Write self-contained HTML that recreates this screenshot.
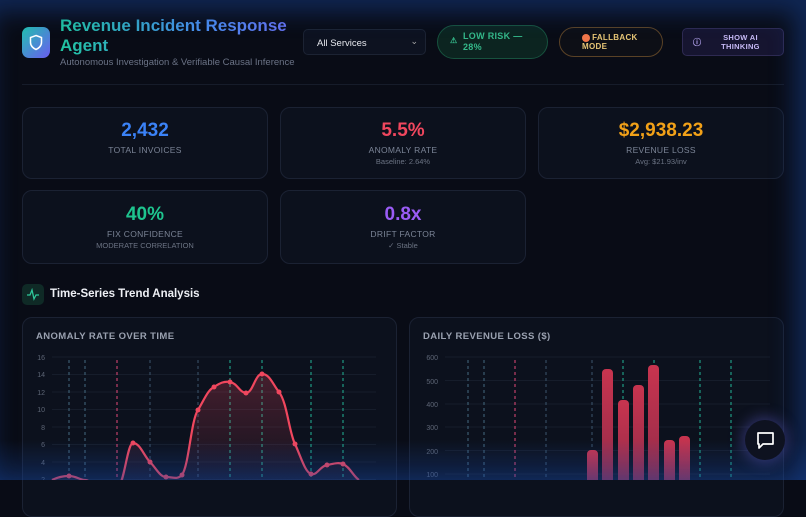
<!DOCTYPE html>
<html><head><meta charset="utf-8"><style>
*{box-sizing:border-box;margin:0;padding:0}
body{width:806px;height:480px;overflow:hidden;background:#090c16;font-family:"Liberation Sans",sans-serif;position:relative}
.abs{position:absolute}
.card{position:absolute;border:1px solid #1b2233;border-radius:10px;background:#0c111d}
.val{position:absolute;left:0;right:0;text-align:center;font-weight:bold;font-size:19px}
.lab{position:absolute;left:0;right:0;text-align:center;font-size:8.5px;color:#7b8496;letter-spacing:.3px}
.sub{position:absolute;left:0;right:0;text-align:center;font-size:7.5px;color:#6b7383}
.pill{position:absolute;font-weight:bold;font-size:8.5px;letter-spacing:.3px}
.glow{position:absolute;inset:0;pointer-events:none;box-shadow:inset -10px 10px 24px 2px rgba(25,70,160,.45)}
</style></head><body>
<!-- header -->
<div class="abs" style="left:22px;top:27px;width:28px;height:31px;border-radius:7px;background:linear-gradient(135deg,#22c3b0,#6a5cf0)"></div>
<svg class="abs" style="left:28px;top:34px" width="16" height="17" viewBox="0 0 16 17"><path d="M8 1.5 L13.5 3.5 V8.5 C13.5 12 10.5 14.5 8 15.5 C5.5 14.5 2.5 12 2.5 8.5 V3.5 Z" fill="none" stroke="#fff" stroke-width="1.5"/></svg>
<div class="abs" style="left:60px;top:16px;font-size:17px;font-weight:bold;line-height:20px;background:linear-gradient(90deg,#20c4a0,#4a8ef0 60%,#6a6ef2);-webkit-background-clip:text;color:transparent;width:240px">Revenue Incident Response Agent</div>
<div class="abs" style="left:60px;top:57px;font-size:9.5px;color:#6b7386">Autonomous Investigation &amp; Verifiable Causal Inference</div>
<div class="abs" style="left:303px;top:29px;width:123px;height:26px;border:1px solid #1c2333;border-radius:5px;background:#0d1220;color:#e6e8ee;font-size:9.5px;padding:8px 0 0 13px">All Services<span style="position:absolute;right:7px;top:6px;font-size:9px;color:#aaa">⌄</span></div>
<div class="abs" style="left:437px;top:25px;width:111px;height:34px;border:1px solid #17523e;border-radius:17px;background:#0c2420"></div>
<div class="pill" style="left:450px;top:36px;color:#34b98a;font-size:8px">⚠</div>
<div class="pill" style="left:463px;top:31px;color:#34b98a;font-size:9px;line-height:11px">LOW RISK —<br>28%</div>
<div class="abs" style="left:559px;top:27px;width:104px;height:30px;border:1px solid #5a4226;border-radius:15px;background:#0d0f16"></div>
<div class="abs" style="left:582px;top:34px;width:8px;height:8px;border-radius:50%;background:#f0764a"></div>
<div class="pill" style="left:582px;top:33px;color:#e7c676;font-size:8px;line-height:9px">&nbsp;&nbsp;&nbsp;&nbsp;FALLBACK<br>MODE</div>
<div class="abs" style="left:682px;top:28px;width:102px;height:28px;border:1px solid #2e2a52;border-radius:5px;background:#161530"></div>
<div class="pill" style="left:693px;top:37px;color:#b8a8f5;font-size:8px">ⓘ</div>
<div class="pill" style="left:712px;top:33px;width:57px;text-align:center;color:#c6b9f5;font-size:7.5px;line-height:9px">SHOW AI<br>THINKING</div>
<div class="abs" style="left:22px;top:84px;width:762px;height:1px;background:#161c2a"></div>
<!-- stat cards -->
<div class="card" style="left:22px;top:107px;width:246px;height:72px"><div class="val" style="top:12px;color:#3b82f6">2,432</div><div class="lab" style="top:37px">TOTAL INVOICES</div></div>
<div class="card" style="left:280px;top:107px;width:246px;height:72px"><div class="val" style="top:12px;color:#f0475e">5.5%</div><div class="lab" style="top:37px">ANOMALY RATE</div><div class="sub" style="top:49px">Baseline: 2.64%</div></div>
<div class="card" style="left:538px;top:107px;width:246px;height:72px"><div class="val" style="top:12px;color:#f2a118">$2,938.23</div><div class="lab" style="top:37px">REVENUE LOSS</div><div class="sub" style="top:49px">Avg: $21.93/inv</div></div>
<div class="card" style="left:22px;top:190px;width:246px;height:74px"><div class="val" style="top:13px;color:#1ec48e">40%</div><div class="lab" style="top:38px">FIX CONFIDENCE</div><div class="sub" style="top:50px">MODERATE CORRELATION</div></div>
<div class="card" style="left:280px;top:190px;width:246px;height:74px"><div class="val" style="top:13px;color:#9a5cf5">0.8x</div><div class="lab" style="top:38px">DRIFT FACTOR</div><div class="sub" style="top:50px">✓ Stable</div></div>
<!-- section -->
<div class="abs" style="left:22px;top:284px;width:22px;height:21px;border-radius:5px;background:#0f2a26"></div>
<svg class="abs" style="left:26px;top:288px" width="14" height="13"><polyline points="1,7 4,7 6,2 8,11 10,7 13,7" fill="none" stroke="#2ec79a" stroke-width="1.3"/></svg>
<div class="abs" style="left:50px;top:288px;font-size:11.5px;font-weight:bold;color:#eef0f5">Time-Series Trend Analysis</div>
<!-- chart cards -->
<div class="card" style="left:22px;top:317px;width:375px;height:200px"></div>
<div class="card" style="left:409px;top:317px;width:375px;height:200px"></div>
<div class="abs" style="left:36px;top:331px;font-size:9.5px;font-weight:bold;color:#9aa1b0;letter-spacing:.4px">ANOMALY RATE OVER TIME</div>
<div class="abs" style="left:423px;top:331px;font-size:9.5px;font-weight:bold;color:#9aa1b0;letter-spacing:.4px">DAILY REVENUE LOSS ($)</div>
<svg class="abs" style="left:0;top:0" width="806" height="480">
<defs><linearGradient id="fa" x1="0" y1="0" x2="0" y2="1"><stop offset="0" stop-color="#f0475e" stop-opacity=".25"/><stop offset="1" stop-color="#f0475e" stop-opacity="0"/></linearGradient>
<linearGradient id="fb" x1="0" y1="0" x2="0" y2="1"><stop offset="0" stop-color="#c8344f"/><stop offset="1" stop-color="#8a2a48"/></linearGradient></defs>
<g font-size="7" fill="#5d6575" text-anchor="end" font-family="Liberation Sans">
<text x="45" y="360">16</text><text x="45" y="377">14</text><text x="45" y="395">12</text><text x="45" y="412">10</text><text x="45" y="430">8</text><text x="45" y="447">6</text><text x="45" y="465">4</text><text x="45" y="482">2</text>
<text x="438" y="360">600</text><text x="438" y="384">500</text><text x="438" y="407">400</text><text x="438" y="430">300</text><text x="438" y="454">200</text><text x="438" y="477">100</text>
</g>
<g stroke="#161d2b" stroke-width="1">
<line x1="52" y1="357" x2="376" y2="357"/><line x1="52" y1="374.5" x2="376" y2="374.5"/><line x1="52" y1="392" x2="376" y2="392"/><line x1="52" y1="409.5" x2="376" y2="409.5"/><line x1="52" y1="427" x2="376" y2="427"/><line x1="52" y1="444.5" x2="376" y2="444.5"/><line x1="52" y1="462" x2="376" y2="462"/><line x1="52" y1="479.5" x2="376" y2="479.5"/>
<line x1="445" y1="357" x2="770" y2="357"/><line x1="445" y1="380.5" x2="770" y2="380.5"/><line x1="445" y1="404" x2="770" y2="404"/><line x1="445" y1="427" x2="770" y2="427"/><line x1="445" y1="450.5" x2="770" y2="450.5"/><line x1="445" y1="474" x2="770" y2="474"/>
</g>
<g stroke-width="1.2" stroke-dasharray="3,3">
<line x1="69" y1="360" x2="69" y2="480" stroke="#3b5b70"/><line x1="85" y1="360" x2="85" y2="480" stroke="#3b5b70"/><line x1="117" y1="360" x2="117" y2="480" stroke="#c0406a"/><line x1="150" y1="360" x2="150" y2="480" stroke="#344a60"/><line x1="198" y1="360" x2="198" y2="480" stroke="#344a60"/><line x1="230" y1="360" x2="230" y2="480" stroke="#1f9a82"/><line x1="262" y1="360" x2="262" y2="480" stroke="#1f9a82"/><line x1="311" y1="360" x2="311" y2="480" stroke="#1f9a82"/><line x1="343" y1="360" x2="343" y2="480" stroke="#1f9a82"/>
<line x1="468" y1="360" x2="468" y2="480" stroke="#3b5b70"/><line x1="484" y1="360" x2="484" y2="480" stroke="#3b5b70"/><line x1="515" y1="360" x2="515" y2="480" stroke="#c0406a"/><line x1="546" y1="360" x2="546" y2="480" stroke="#344a60"/><line x1="592" y1="360" x2="592" y2="480" stroke="#344a60"/><line x1="623" y1="360" x2="623" y2="480" stroke="#1f9a82"/><line x1="654" y1="360" x2="654" y2="480" stroke="#1f9a82"/><line x1="700" y1="360" x2="700" y2="480" stroke="#1f9a82"/><line x1="731" y1="360" x2="731" y2="480" stroke="#1f9a82"/>
</g>
<path d="M52,480 C58,477 63,476 69,476 C76,476 80,480 85,480 C92,480 96,492 101,492 C108,492 112,486 117,487 C124,488 127,443 133,443 C140,443 144,456 150,462 C156,468 160,477 166,477 C173,477 177,480 182,475 C189,465 191,420 198,410 C205,398 208,390 214,387 C220,383 224,381 230,382 C237,383 240,393 246,393 C253,393 255,374 262,374 C270,374 273,385 279,392 C287,402 289,432 295,444 C301,457 305,472 311,474 C317,476 320,466 327,465 C333,464 338,462 343,464 C350,467 353,476 359,480 L359,497 L52,497 Z" fill="url(#fa)"/>
<path d="M52,480 C58,477 63,476 69,476 C76,476 80,480 85,480 C92,480 96,492 101,492 C108,492 112,486 117,487 C124,488 127,443 133,443 C140,443 144,456 150,462 C156,468 160,477 166,477 C173,477 177,480 182,475 C189,465 191,420 198,410 C205,398 208,390 214,387 C220,383 224,381 230,382 C237,383 240,393 246,393 C253,393 255,374 262,374 C270,374 273,385 279,392 C287,402 289,432 295,444 C301,457 305,472 311,474 C317,476 320,466 327,465 C333,464 338,462 343,464 C350,467 353,476 359,480" fill="none" stroke="#f0475e" stroke-width="2.2"/>
<g fill="#f0475e"><circle cx="69" cy="476" r="2.5"/><circle cx="133" cy="443" r="2.5"/><circle cx="150" cy="462" r="2.5"/><circle cx="166" cy="477" r="2.5"/><circle cx="182" cy="475" r="2.5"/><circle cx="198" cy="410" r="2.5"/><circle cx="214" cy="387" r="2.5"/><circle cx="230" cy="382" r="2.5"/><circle cx="246" cy="393" r="2.5"/><circle cx="262" cy="374" r="2.5"/><circle cx="279" cy="392" r="2.5"/><circle cx="295" cy="444" r="2.5"/><circle cx="311" cy="474" r="2.5"/><circle cx="327" cy="465" r="2.5"/><circle cx="343" cy="464" r="2.5"/></g>
<g fill="url(#fb)">
<rect x="587" y="450" width="11" height="50" rx="4"/><rect x="602" y="369" width="11" height="130" rx="4"/><rect x="618" y="400" width="11" height="100" rx="4"/><rect x="633" y="385" width="11" height="115" rx="4"/><rect x="648" y="365" width="11" height="135" rx="4"/><rect x="664" y="440" width="11" height="60" rx="4"/><rect x="679" y="436" width="11" height="64" rx="4"/>
</g>
</svg>
<div class="abs" style="left:0;top:440px;width:806px;height:40px;background:linear-gradient(180deg,rgba(20,60,140,0),rgba(25,75,170,.35))"></div>
<div class="glow"></div>
<div class="abs" style="left:745px;top:420px;width:40px;height:40px;border-radius:50%;background:#0e1220;box-shadow:0 0 14px 3px rgba(90,90,200,.45)"></div>
<svg class="abs" style="left:756px;top:431px" width="19" height="19"><path d="M2 2 H17 V13 H7 L3 17 V13 H2 Z" fill="none" stroke="#fff" stroke-width="1.7" stroke-linejoin="round"/></svg>
</body></html>
